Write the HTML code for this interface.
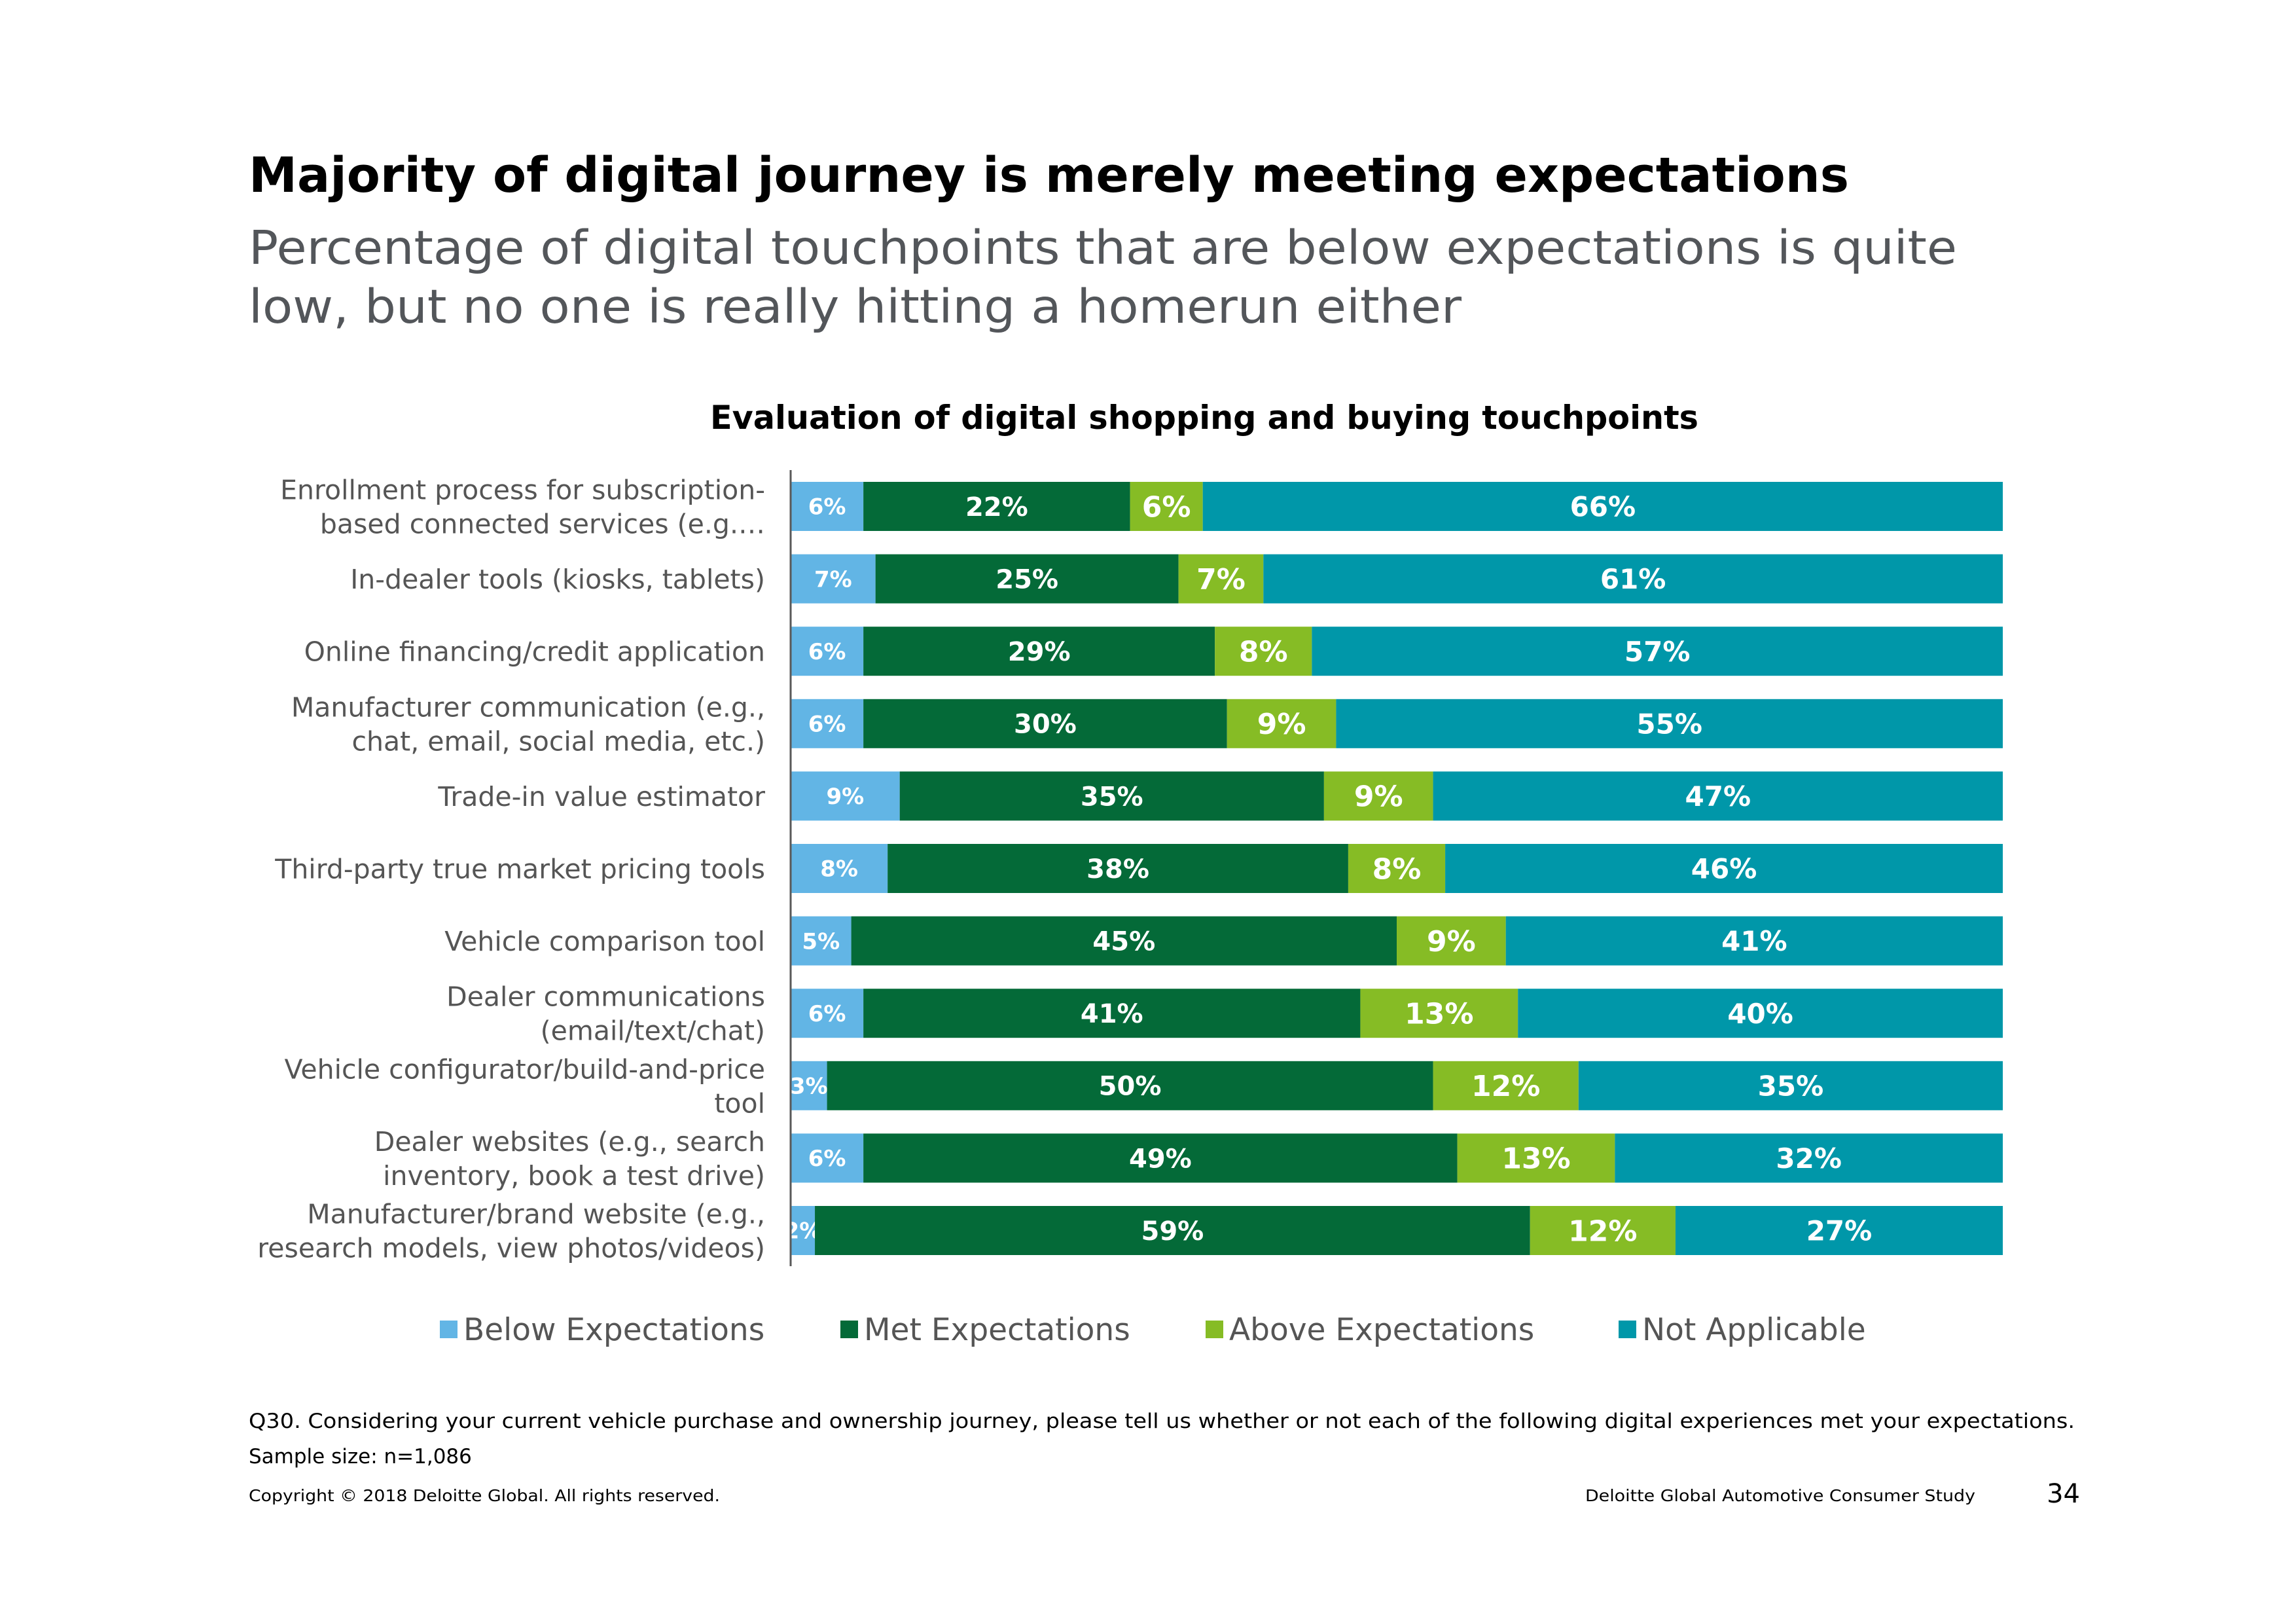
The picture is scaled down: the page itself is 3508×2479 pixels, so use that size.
<!DOCTYPE html>
<html><head><meta charset="utf-8"><style>
html,body{margin:0;padding:0;background:#fff;}
svg{display:block;font-family:"DejaVu Sans","Liberation Sans",sans-serif;}
</style></head><body>
<svg id="chart" width="3508" height="2479" viewBox="0 0 3508 2479" xmlns="http://www.w3.org/2000/svg">
<rect width="3508" height="2479" fill="#fff"/>
<text x="380" y="293" font-size="74" font-weight="bold" fill="#000" textLength="2445" lengthAdjust="spacingAndGlyphs">Majority of digital journey is merely meeting expectations</text>
<text x="380" y="403" font-size="71" fill="#53565a" textLength="2610" lengthAdjust="spacingAndGlyphs">Percentage of digital touchpoints that are below expectations is quite</text>
<text x="380" y="493" font-size="71" fill="#53565a" textLength="1853" lengthAdjust="spacingAndGlyphs">low, but no one is really hitting a homerun either</text>
<text x="1840" y="655" font-size="50" font-weight="bold" fill="#000" text-anchor="middle" textLength="1510" lengthAdjust="spacingAndGlyphs">Evaluation of digital shopping and buying touchpoints</text>
<g id="bars"></g>
<line x1="1208" y1="718" x2="1208" y2="1934" stroke="#595959" stroke-width="3"/>
<g id="legend"></g>
<text x="380" y="2181" font-size="31" fill="#000" textLength="2790" lengthAdjust="spacingAndGlyphs">Q30. Considering your current vehicle purchase and ownership journey, please tell us whether or not each of the following digital experiences met your expectations.</text>
<text x="380" y="2235" font-size="31" fill="#000">Sample size: n=1,086</text>
<text x="380" y="2293" font-size="25" fill="#000" textLength="720" lengthAdjust="spacingAndGlyphs">Copyright © 2018 Deloitte Global. All rights reserved.</text>
<text x="3018" y="2293" font-size="25" fill="#000" text-anchor="end" textLength="596" lengthAdjust="spacingAndGlyphs">Deloitte Global Automotive Consumer Study</text>
<text x="3178" y="2295" font-size="40" fill="#000" text-anchor="end">34</text>
</svg>
<script>
const categories = [
  ["Enrollment process for subscription-","based connected services (e.g.…"],
  ["In-dealer tools (kiosks, tablets)"],
  ["Online financing/credit application"],
  ["Manufacturer communication (e.g.,","chat, email, social media, etc.)"],
  ["Trade-in value estimator"],
  ["Third-party true market pricing tools "],
  ["Vehicle comparison tool"],
  ["Dealer communications","(email/text/chat)"],
  ["Vehicle configurator/build-and-price","tool"],
  ["Dealer websites (e.g., search","inventory, book a test drive)"],
  ["Manufacturer/brand website (e.g.,","research models, view photos/videos)"]
];
const below = [6,7,6,6,9,8,5,6,3,6,2];
const met = [22,25,29,30,35,38,45,41,50,49,59];
const above = [6,7,8,9,9,8,9,13,12,13,12];
const notApplicable = [66,61,57,55,47,46,41,40,35,32,27];
const seriesNames = ["Below Expectations","Met Expectations","Above Expectations","Not Applicable"];

const colors = ["#62b5e5","#046a38","#86bc25","#0097a9"];
const keys = ["below","met","above","not-applicable"];
const fontSizes = [34,40,44,42];
const NS = "http://www.w3.org/2000/svg";
const x0 = 1208, plotW = 1852, top0 = 736, pitch = 110.6, barH = 75;
function xScale(v){ return x0 + v/100*plotW; }
function yBand(i){ return top0 + i*pitch; }
const g = document.getElementById('bars');
const series = [below, met, above, notApplicable];
categories.forEach((lines, i) => {
  const y = yBand(i);
  const cy = y + barH/2;
  let acc = 0;
  series.forEach((arr, s) => {
    const v = arr[i];
    const r = document.createElementNS(NS,'rect');
    r.setAttribute('x', xScale(acc));
    r.setAttribute('y', y);
    r.setAttribute('width', xScale(acc+v)-xScale(acc));
    r.setAttribute('height', barH);
    r.setAttribute('fill', colors[s]);
    
    
    g.appendChild(r);
    const t = document.createElementNS(NS,'text');
    t.setAttribute('x', (xScale(acc)+xScale(acc+v))/2);
    t.setAttribute('y', cy + fontSizes[s]*0.36);
    t.setAttribute('text-anchor','middle');
    t.setAttribute('font-size', fontSizes[s]);
    t.setAttribute('font-weight','bold');
    t.setAttribute('fill','#fff');
    t.textContent = v + '%';
    
    
    g.appendChild(t);
    acc += v;
  });
  const lh = 52;
  lines.forEach((ln, k) => {
    const t = document.createElementNS(NS,'text');
    t.setAttribute('x', 1169);
    t.setAttribute('y', cy - (lines.length-1)*lh/2 + k*lh + 15);
    t.setAttribute('text-anchor','end');
    t.setAttribute('font-size', 41);
    t.setAttribute('fill','#555');
    t.setAttribute('xml:space','preserve');
    t.textContent = ln;
    
    
    g.appendChild(t);
  });
});
const lg = document.getElementById('legend');
const legendX = [672, 1284, 1842, 2473];
seriesNames.forEach((n, s) => {
  const r = document.createElementNS(NS,'rect');
  r.setAttribute('x', legendX[s]);
  r.setAttribute('y', 2017);
  r.setAttribute('width', 27);
  r.setAttribute('height', 27);
  r.setAttribute('fill', colors[s]);
  
  
  lg.appendChild(r);
  const t = document.createElementNS(NS,'text');
  t.setAttribute('x', legendX[s] + 36);
  t.setAttribute('y', 2047);
  t.setAttribute('font-size', 47);
  t.setAttribute('fill','#555');
  t.textContent = n;
  
  
  lg.appendChild(t);
});
</script>
</body></html>
